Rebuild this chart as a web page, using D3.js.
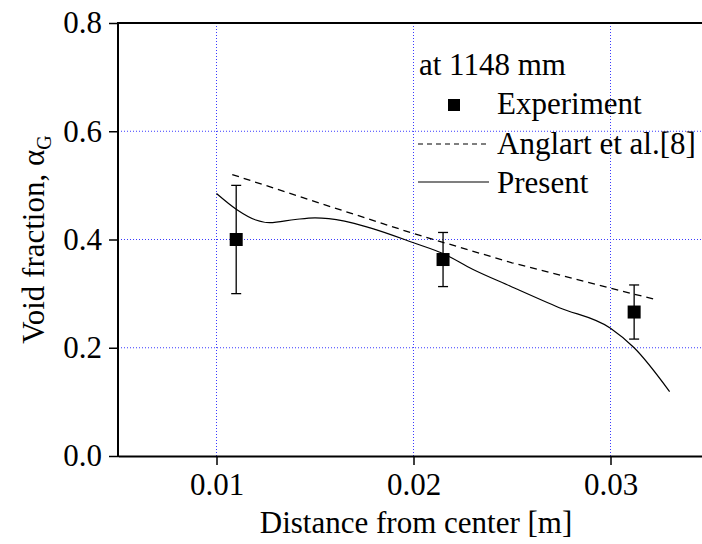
<!DOCTYPE html>
<html lang="en">
<head>
<meta charset="utf-8">
<title>Void fraction</title>
<script src="https://cdnjs.cloudflare.com/ajax/libs/d3/7.8.5/d3.min.js"></script>
<style>
  body { margin: 0; background: #fff; }
  svg { display: block; font-family: "Liberation Serif", "Times New Roman", serif; }
  .grid line { stroke: #3a3aff; stroke-width: 1; stroke-dasharray: 1,2; }
</style>
</head>
<body>
<script>
// experiment points with error bars
var expX = [0.0110, 0.0215, 0.0312];
var expY = [0.400, 0.363, 0.266];
var expErr = [0.100, 0.050, 0.050];

// Anglart et al. [8] (dashed)
var anglartX = [0.0108, 0.0150, 0.0200, 0.0250, 0.0300, 0.0323];
var anglartY = [0.520, 0.470, 0.411, 0.357, 0.310, 0.289];

// present model (solid)
var presentX = [0.0100, 0.0110, 0.0120, 0.0127, 0.0140, 0.0150, 0.0165, 0.0178, 0.0200, 0.0215, 0.0230, 0.0249, 0.0274, 0.0300, 0.0312, 0.0330];
var presentY = [0.485, 0.456, 0.436, 0.431, 0.437, 0.440, 0.434, 0.4215, 0.394, 0.374, 0.345, 0.314, 0.274, 0.236, 0.200, 0.119];

var xTicks = [0.01, 0.02, 0.03];
var yTicks = [0.0, 0.2, 0.4, 0.6, 0.8];

var W = 702, H = 544;
var pLeft = 118, pTop = 23, pBottom = 456;

var svg = d3.select("body").append("svg")
  .attr("width", W)
  .attr("height", H);

var x = d3.scaleLinear().domain([0.005, 0.035]).range([pLeft, 709]);
var y = d3.scaleLinear().domain([0, 0.8]).range([pBottom, pTop]);

// grid
var grid = svg.append("g").attr("class", "grid");
grid.selectAll(".gx").data(xTicks).enter().append("line")
  .attr("x1", function(d) { return x(d); }).attr("x2", function(d) { return x(d); })
  .attr("y1", pTop).attr("y2", pBottom);
grid.selectAll(".gy").data([0.2, 0.4, 0.6]).enter().append("line")
  .attr("x1", pLeft).attr("x2", W)
  .attr("y1", function(d) { return y(d); }).attr("y2", function(d) { return y(d); });

// axes
var xAxis = svg.append("g")
  .attr("transform", "translate(0," + pBottom + ")")
  .call(d3.axisBottom(x).tickValues(xTicks).tickFormat(d3.format(".2f")).tickSize(9).tickPadding(8).tickSizeOuter(0));
var yAxis = svg.append("g")
  .attr("transform", "translate(" + pLeft + ",0)")
  .call(d3.axisLeft(y).tickValues(yTicks).tickFormat(d3.format(".1f")).tickSize(9).tickPadding(7).tickSizeOuter(0));

[xAxis, yAxis].forEach(function(a) {
  a.select(".domain").attr("stroke", "#000").attr("stroke-width", 2);
  a.selectAll(".tick line").attr("stroke", "#000").attr("stroke-width", 1.5);
  a.selectAll(".tick text").attr("fill", "#000").style("font-size", "31px").style("font-family", "Liberation Serif");
});
yAxis.select(".domain").attr("d", "M0," + (pTop - 1) + "V" + (pBottom + 1));

// top frame line
svg.append("line")
  .attr("x1", pLeft - 1).attr("x2", W)
  .attr("y1", pTop).attr("y2", pTop)
  .attr("stroke", "#000").attr("stroke-width", 2);

// lines
var dashed = d3.line()
  .x(function(d, i) { return x(anglartX[i]); })
  .y(function(d) { return y(d); });
svg.append("path")
  .attr("d", dashed(anglartY))
  .attr("fill", "none").attr("stroke", "#000").attr("stroke-width", 1.3)
  .attr("stroke-dasharray", "7,5");

var solid = d3.line()
  .curve(d3.curveMonotoneX)
  .x(function(d, i) { return x(presentX[i]); })
  .y(function(d) { return y(d); });
svg.append("path")
  .attr("d", solid(presentY))
  .attr("fill", "none").attr("stroke", "#000").attr("stroke-width", 1.2);

// error bars + squares
var pts = svg.append("g");
expX.forEach(function(v, i) {
  var cx = x(v);
  pts.append("line").attr("x1", cx).attr("x2", cx)
    .attr("y1", y(expY[i] + expErr[i])).attr("y2", y(expY[i] - expErr[i]))
    .attr("stroke", "#000").attr("stroke-width", 1.3);
  [expY[i] + expErr[i], expY[i] - expErr[i]].forEach(function(e) {
    pts.append("line").attr("x1", cx - 5).attr("x2", cx + 5)
      .attr("y1", y(e)).attr("y2", y(e))
      .attr("stroke", "#000").attr("stroke-width", 1.3);
  });
  pts.append("rect")
    .attr("x", cx - 6.5).attr("y", y(expY[i]) - 6.5)
    .attr("width", 13).attr("height", 13)
    .attr("fill", "#000");
});

// legend
var lg = svg.append("g").style("font-size", "31px").style("font-family", "Liberation Serif").attr("fill", "#000");
lg.append("text").attr("x", 419).attr("y", 75).text("at 1148 mm");
lg.append("rect").attr("x", 448).attr("y", 99).attr("width", 12).attr("height", 12).attr("fill", "#000");
lg.append("text").attr("x", 497).attr("y", 114).text("Experiment");
lg.append("line").attr("x1", 418).attr("x2", 489).attr("y1", 144).attr("y2", 144)
  .attr("stroke", "#000").attr("stroke-width", 1.2).attr("stroke-dasharray", "5,4");
lg.append("text").attr("x", 497).attr("y", 154).text("Anglart et al.[8]");
lg.append("line").attr("x1", 418).attr("x2", 489).attr("y1", 182).attr("y2", 182)
  .attr("stroke", "#000").attr("stroke-width", 1.2);
lg.append("text").attr("x", 497).attr("y", 193).text("Present");

// axis titles
svg.append("text")
  .attr("x", (260 + 572) / 2).attr("y", 533)
  .attr("text-anchor", "middle")
  .style("font-size", "31px")
  .style("font-family", "Liberation Serif")
  .text("Distance from center [m]");

var yt = svg.append("text")
  .attr("transform", "translate(44," + ((pTop + pBottom) / 2) + ") rotate(-90)")
  .attr("text-anchor", "middle")
  .style("font-size", "31px")
  .style("font-family", "Liberation Serif");
yt.append("tspan").text("Void fraction, \u03b1");
yt.append("tspan").attr("dy", 7).style("font-size", "20px").text("G");
</script>
</body>
</html>
